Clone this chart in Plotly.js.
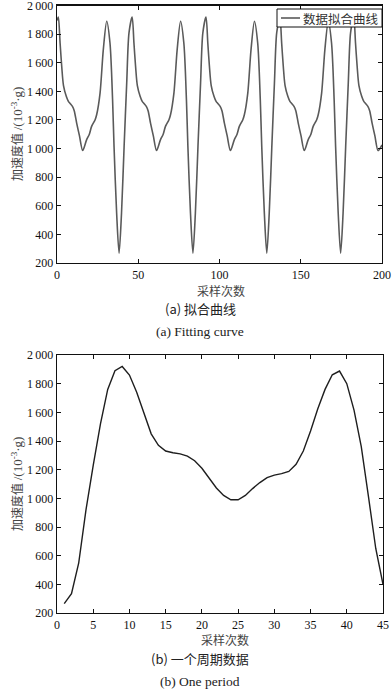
<!DOCTYPE html>
<html>
<head>
<meta charset="utf-8">
<script src="https://cdn.plot.ly/plotly-3.0.1.min.js"></script>
<style>
html,body{margin:0;padding:0;background:#fff;}
#chart{width:392px;height:693px;}
</style>
</head>
<body>
<div id="chart"></div>
<script>
// (a) Fitting curve — sample index vs fitted acceleration (10^-3 g)
var fitX = [0, 0.8, 1.9, 2.9, 4.0, 5.7, 7.0, 8.2, 9.5, 10.6, 12.1, 13.8, 15.8, 18.2, 19.9, 21.3, 23.4, 24.4, 26.5, 28.5, 30.6, 32.6, 34.2, 35.1, 36.7, 38.2, 39.7, 41.3, 42.9, 44.3,
  46.25, 47.35, 48.35, 49.45, 51.15, 52.45, 53.65, 54.95, 56.05, 57.55, 59.25, 61.25, 63.65, 65.35, 66.75, 68.85, 69.85, 71.95, 73.95, 76.05, 78.05, 79.65, 80.55, 82.15, 83.65, 85.15, 86.75, 88.35, 89.75,
  91.7, 92.8, 93.8, 94.9, 96.6, 97.9, 99.1, 100.4, 101.5, 103.0, 104.7, 106.7, 109.1, 110.8, 112.2, 114.3, 115.3, 117.4, 119.4, 121.5, 123.5, 125.1, 126.0, 127.6, 129.1, 130.6, 132.2, 133.8, 135.2,
  137.15, 138.25, 139.25, 140.35, 142.05, 143.35, 144.55, 145.85, 146.95, 148.45, 150.15, 152.15, 154.55, 156.25, 157.65, 159.75, 160.75, 162.85, 164.85, 166.95, 168.95, 170.55, 171.45, 173.05, 174.55, 176.05, 177.65, 179.25, 180.65,
  182.6, 183.7, 184.7, 185.8, 187.5, 188.8, 190.0, 191.3, 192.4, 193.9, 195.6, 197.6, 200];
var fitY = [1895, 1920, 1738, 1575, 1440, 1365, 1330, 1313, 1295, 1265, 1178, 1090, 986, 1061, 1100, 1155, 1200, 1236, 1388, 1692, 1890, 1738, 1341, 1014, 548, 268, 548, 1014, 1458, 1808,
  1920, 1738, 1575, 1440, 1365, 1330, 1313, 1295, 1265, 1178, 1090, 986, 1061, 1100, 1155, 1200, 1236, 1388, 1692, 1890, 1738, 1341, 1014, 548, 268, 548, 1014, 1458, 1808,
  1920, 1738, 1575, 1440, 1365, 1330, 1313, 1295, 1265, 1178, 1090, 986, 1061, 1100, 1155, 1200, 1236, 1388, 1692, 1890, 1738, 1341, 1014, 548, 268, 548, 1014, 1458, 1808,
  1920, 1738, 1575, 1440, 1365, 1330, 1313, 1295, 1265, 1178, 1090, 986, 1061, 1100, 1155, 1200, 1236, 1388, 1692, 1890, 1738, 1341, 1014, 548, 268, 548, 1014, 1458, 1808,
  1920, 1738, 1575, 1440, 1365, 1330, 1313, 1295, 1265, 1178, 1090, 986, 1025];

// (b) One period — sample index vs acceleration
var periodX = [1,2,3,4,5,6,7,8,9,10,11,12,13,14,15,16,17,18,19,20,21,22,23,24,25,26,27,28,29,30,31,32,33,34,35,36,37,38,39,40,41,42,43,44,45];
var periodY = [265,335,550,920,1230,1520,1760,1890,1920,1860,1740,1590,1450,1370,1330,1318,1310,1295,1262,1210,1140,1072,1020,990,990,1020,1068,1110,1145,1162,1172,1188,1238,1330,1470,1625,1760,1862,1888,1800,1615,1360,1010,650,400];

var yTickVals = [200,400,600,800,1000,1200,1400,1600,1800,2000];
var yTickText = ['200','400','600','800','1\u2009000','1\u2009200','1\u2009400','1\u2009600','1\u2009800','2\u2009000'];
var xTickVals1 = [0,50,100,150,200];
var xTickVals2 = [0,5,10,15,20,25,30,35,40,45];

var seriesName = '数据拟合曲线';
var yTitle = '加速度值 <span style="font-family:Liberation Serif;font-size:13px">/(10<sup>-3</sup>·g)</span>';
var xTitle = '采样次数';
var capA1 = '(a) 拟合曲线', capA2 = '(a) Fitting curve';
var capB1 = '(b) 一个周期数据', capB2 = '(b) One period';

var W = 392, H = 693;
function px(x){return x/W;}
function py(y){return 1 - y/H;}

var serif = 'Liberation Serif';
var cjk = 'Noto Sans CJK SC';
var tickFont = {family: serif, size: 12, color: '#111'};

function axisBase(){
  return {
    showline: true, mirror: 'ticks', linecolor: '#111', linewidth: 1.3,
    ticks: 'inside', ticklen: 4, tickwidth: 1, tickcolor: '#111',
    showgrid: false, zeroline: false, tickfont: tickFont, fixedrange: true,
    ticklabeloverflow: 'allow'
  };
}

var xa1 = Object.assign(axisBase(), {domain: [px(57), px(382)], range: [0, 200], tickvals: xTickVals1, anchor: 'y', ticklabelstandoff: 0});
var ya1 = Object.assign(axisBase(), {domain: [py(263), py(5.5)], range: [200, 2000], tickvals: yTickVals, ticktext: yTickText, anchor: 'x', ticklabelstandoff: 0});
var xa2 = Object.assign(axisBase(), {domain: [px(57), px(383)], range: [0, 45], tickvals: xTickVals2, anchor: 'y2', ticklabelstandoff: 0});
var ya2 = Object.assign(axisBase(), {domain: [py(613), py(355)], range: [200, 2000], tickvals: yTickVals, ticktext: yTickText, anchor: 'x2', ticklabelstandoff: 0});

var traces = [
  {x: fitX, y: fitY, type: 'scatter', mode: 'lines', name: seriesName,
   line: {color: '#5a5a5a', width: 1.6, shape: 'spline', smoothing: 0.8}, xaxis: 'x', yaxis: 'y', showlegend: false},
  {x: periodX, y: periodY, type: 'scatter', mode: 'lines', name: '一个周期数据',
   line: {color: '#1e1e1e', width: 1.4}, xaxis: 'x2', yaxis: 'y2', showlegend: false}
];

function ann(text, x, y, size, opts){
  return Object.assign({text: text, xref: 'paper', yref: 'paper', x: px(x), y: py(y),
    xanchor: 'center', yanchor: 'middle', showarrow: false,
    font: {family: cjk, size: size, color: '#222'}}, opts || {});
}

var layout = {
  width: W, height: H,
  margin: {l: 0, r: 0, t: 0, b: 0},
  paper_bgcolor: '#fff', plot_bgcolor: '#fff',
  xaxis: xa1, yaxis: ya1, xaxis2: xa2, yaxis2: ya2,
  showlegend: false,
  shapes: [
    // legend frame and line sample for the fitted-curve series
    {type: 'rect', xref: 'paper', yref: 'paper', x0: px(277), x1: px(382), y0: py(27), y1: py(9),
     line: {color: '#111', width: 1}, fillcolor: '#fff', layer: 'above'},
    {type: 'line', xref: 'paper', yref: 'paper', x0: px(281), x1: px(300), y0: py(18), y1: py(18),
     line: {color: '#5a5a5a', width: 1.6}, layer: 'above'}
  ],
  annotations: [
    ann(seriesName, 341, 18, 12.5, {font: {family: cjk, size: 12.5, color: '#333'}}),
    ann(yTitle, 16, 134, 12, {textangle: -90, font: {family: cjk, size: 12, color: '#444'}}),
    ann(xTitle, 221, 290, 12, {font: {family: cjk, size: 12, color: '#444'}}),
    ann(capA1, 200, 308, 13),
    ann(capA2, 200, 331, 13, {font: {family: serif, size: 13.5, color: '#222'}}),
    ann(yTitle, 16, 484, 12, {textangle: -90, font: {family: cjk, size: 12, color: '#444'}}),
    ann(xTitle, 225, 639, 12, {font: {family: cjk, size: 12, color: '#444'}}),
    ann(capB1, 200, 658, 13),
    ann(capB2, 200, 681, 13, {font: {family: serif, size: 13.5, color: '#222'}})
  ]
};

Plotly.newPlot('chart', traces, layout, {displayModeBar: false, staticPlot: true});
</script>
</body>
</html>
